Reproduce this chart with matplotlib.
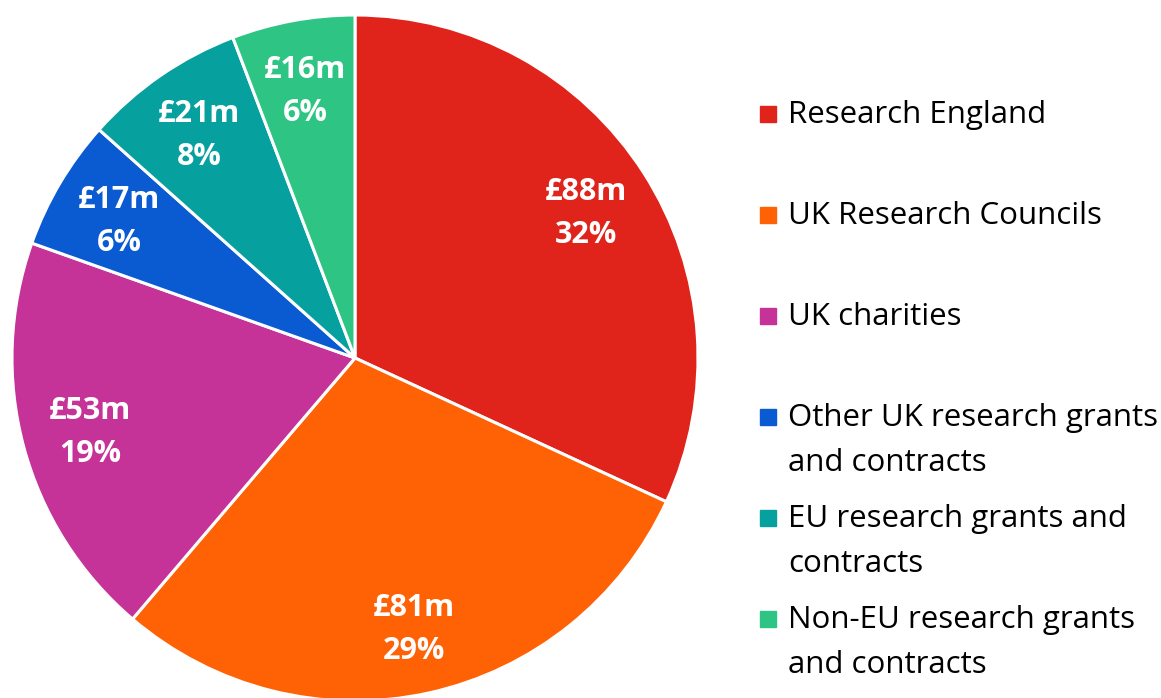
import numpy as np
import matplotlib.pyplot as plt
from matplotlib.patches import Rectangle

# Research income by source (£m)
sources = [
    "Research England",
    "UK Research Councils",
    "UK charities",
    "Other UK research grants\nand contracts",
    "EU research grants and\ncontracts",
    "Non-EU research grants\nand contracts",
]
income_m = [88, 81, 53, 17, 21, 16]
colours = ["#E0241B", "#FF6105", "#C53398", "#0A5AD2", "#06A09E", "#2DC484"]

W, H = 1161, 698
fig = plt.figure(figsize=(W / 100, H / 100), dpi=100)

# pie axes placed in pixel terms: centre (355, 358), radius 343
cx, cy, r = 355, 358, 343
ax = fig.add_axes([(cx - r) / W, (H - cy - r) / H, 2 * r / W, 2 * r / H])
wedges, _ = ax.pie(income_m, colors=colours, startangle=90, counterclock=False,
                   radius=1.0, wedgeprops=dict(edgecolor="white", linewidth=2.2))
ax.set_xlim(-1, 1)
ax.set_ylim(-1, 1)
ax.set_aspect("equal")
ax.axis("off")

total = sum(income_m)
for w, v in zip(wedges, income_m):
    mid = np.deg2rad((w.theta1 + w.theta2) / 2)
    d = 0.8
    ax.text(d * np.cos(mid), d * np.sin(mid) - 0.01, f"£{v}m\n{round(v / total * 100)}%",
            ha="center", va="center", color="white", fontsize=22, fontweight="bold",
            family="Open Sans", linespacing=1.6)

# legend drawn by hand so markers line up with the first text line
for i, (name, col) in enumerate(zip(sources, colours)):
    base = 123 + 101 * i
    fig.add_artist(Rectangle((760 / W, (H - base + 1) / H), 16 / W, 16 / H,
                             transform=fig.transFigure, color=col))
    for j, line in enumerate(name.split("\n")):
        fig.text(788 / W, (H - base - 45 * j) / H, line, ha="left", va="baseline",
                 fontsize=22.5, family="Open Sans", color="black")

fig.savefig("out.png", dpi=100)
